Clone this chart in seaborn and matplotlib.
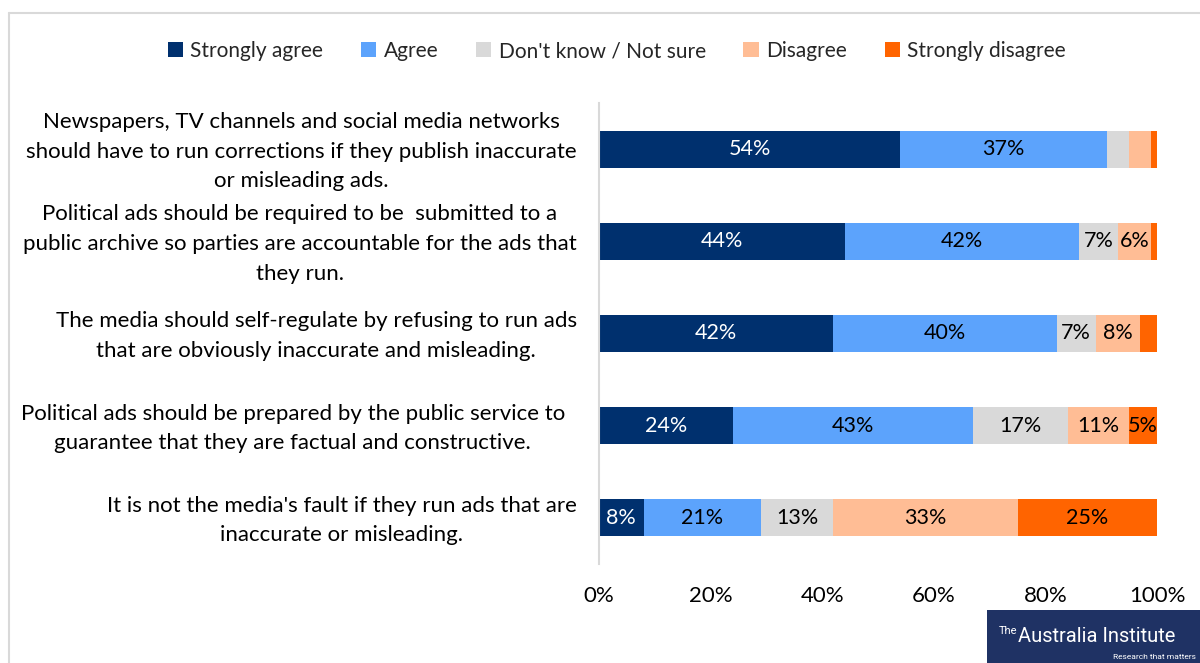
import matplotlib
matplotlib.use("Agg")
import matplotlib.pyplot as plt
import matplotlib.transforms as mtransforms
from matplotlib.lines import Line2D
from matplotlib.patches import Rectangle, Patch
import pandas as pd
import seaborn as sns

# Survey statements (wrapped as they appear on the axis)
statements = [
    "Newspapers, TV channels and social media networks\nshould have to run corrections if they publish inaccurate\nor misleading ads.",
    "Political ads should be required to be  submitted to a\npublic archive so parties are accountable for the ads that\nthey run.",
    "The media should self-regulate by refusing to run ads\nthat are obviously inaccurate and misleading.",
    "Political ads should be prepared by the public service to\nguarantee that they are factual and constructive.",
    "It is not the media's fault if they run ads that are\ninaccurate or misleading.",
]

responses = ["Strongly agree", "Agree", "Don't know / Not sure", "Disagree", "Strongly disagree"]

# Share of respondents (%) per response, one list per response
strongly_agree = [54, 44, 42, 24, 8]
agree = [37, 42, 40, 43, 21]
dont_know = [4, 7, 7, 17, 13]
disagree = [4, 6, 8, 11, 33]
strongly_disagree = [1, 1, 3, 5, 25]

colors = ["#00306E", "#5CA3FC", "#D9D9D9", "#FFBD95", "#FF6400"]
label_colors = ["white", "black", "black", "black", "black"]

x_ticks = [0, 20, 40, 60, 80, 100]

FONT = ["Lato", "DejaVu Sans"]
sns.set_theme(style="white")
plt.rcParams["font.family"] = FONT

series = [strongly_agree, agree, dont_know, disagree, strongly_disagree]
df = pd.DataFrame({r: v for r, v in zip(responses, series)})
df["statement"] = statements
cum = df[responses].cumsum(axis=1)

fig = plt.figure(figsize=(12, 6.63), dpi=100)
ax = fig.add_axes([599 / 1200, 1 - 564 / 663, 558 / 1200, 461 / 663])

# stacked bars: draw cumulative totals from the outermost segment inward
for i in range(len(responses) - 1, -1, -1):
    sns.barplot(
        data=pd.DataFrame({"statement": statements, "value": cum[responses[i]]}),
        x="value", y="statement", orient="h", color=colors[i],
        width=0.4, ax=ax, saturation=1, linewidth=0,
    )

# value labels in the middle of each segment
for i, r in enumerate(responses):
    for j in range(len(statements)):
        v = df[r].iloc[j]
        if v >= 5:
            mid = cum[r].iloc[j] - v / 2
            ax.text(mid, j, f"{v}%", ha="center", va="center",
                    color=label_colors[i], fontsize=15.5)

ax.set_xlim(0, 100)
ax.set_ylim(4.5, -0.5)
ax.set_xticks(x_ticks)
ax.set_xticklabels([f"{t}%" for t in x_ticks])
ax.set_xlabel("")
ax.set_ylabel("")
ax.tick_params(axis="x", length=0, pad=16, labelsize=16, labelcolor="black")
ax.tick_params(axis="y", length=0, pad=16, labelsize=16, labelcolor="black")
for k, lab in enumerate(ax.get_yticklabels()):
    lab.set_multialignment("center")
    lab.set_linespacing(1.6)
    # nudge statements up slightly; the fourth one also sits a little further left
    dx = -0.12 if k == 3 else 0.0
    lab.set_transform(lab.get_transform() + mtransforms.ScaledTranslation(dx, 0.04, fig.dpi_scale_trans))

for s in ["top", "right", "bottom"]:
    ax.spines[s].set_visible(False)
ax.spines["left"].set_color("#D9D9D9")
ax.spines["left"].set_linewidth(1.5)
ax.grid(False)

# legend across the top
handles = [Patch(facecolor=c, edgecolor="none") for c in colors]
fig.legend(handles, responses, loc="center", bbox_to_anchor=(0.514, 1 - 51 / 663),
           ncol=5, frameon=False, fontsize=15, handlelength=0.75, handleheight=0.75,
           handletextpad=0.35, columnspacing=1.8)

# outer frame (top and left edges)
fig.add_artist(Line2D([9 / 1200, 1], [1 - 13 / 663] * 2, color="#D9D9D9", lw=1.5))
fig.add_artist(Line2D([9 / 1200] * 2, [0, 1 - 13 / 663], color="#D9D9D9", lw=1.5))

# publisher badge
fig.add_artist(Rectangle((987 / 1200, 0), 213 / 1200, 53 / 663, transform=fig.transFigure,
                         facecolor="#1F3264", edgecolor="none"))
badge = ["Roboto", "DejaVu Sans"]
fig.text(999 / 1200, 1 - 631 / 663, "The", color="white", fontsize=8, family=badge,
         ha="left", va="center")
fig.text(1018 / 1200, 1 - 637 / 663, "Australia Institute", color="white", fontsize=14.5,
         family=badge, ha="left", va="center")
fig.text(1196 / 1200, 1 - 657 / 663, "Research that matters", color="white", fontsize=6,
         family=badge, ha="right", va="center")

fig.savefig("out.png", dpi=100, facecolor="white")
